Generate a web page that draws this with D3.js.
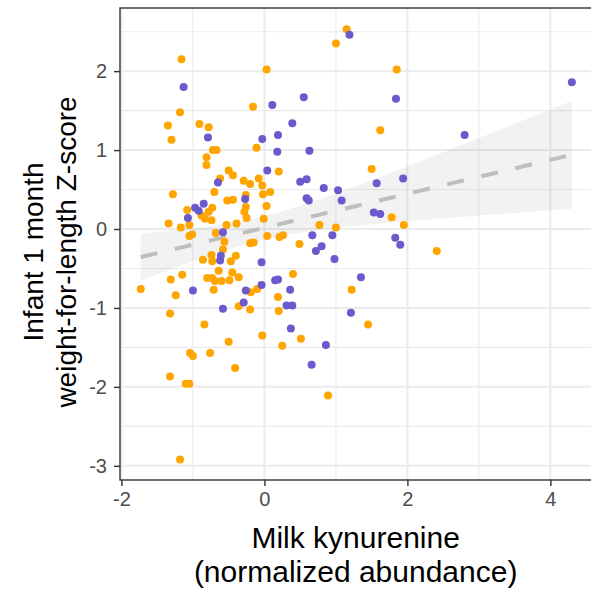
<!DOCTYPE html>
<html>
<head>
<meta charset="utf-8">
<script src="https://cdn.jsdelivr.net/npm/d3@7"></script>
<style>
  body { margin: 0; background: #fff; }
  svg text { font-family: "Liberation Sans", Arial, Helvetica, sans-serif; }
</style>
</head>
<body>
<div id="chart"></div>
<script>
// milk kynurenine (x) and infant WFL z-score (y), two groups
const kynOrange = [1.15,1.00,-1.16,0.03,1.85,-0.16,1.62,-1.18,-1.35,-0.91,
  -0.78,-1.30,-0.11,-0.72,-0.67,-0.81,-0.81,-0.50,0.20,1.50,
  -0.44,-0.62,-0.29,-0.20,-0.08,-0.03,-0.70,-1.28,-0.02,0.08,
  -0.26,-0.52,-0.44,0.03,-0.26,-0.28,-1.08,-0.73,-0.78,-0.88,
  -0.83,-0.74,-0.25,-0.01,-1.34,-1.17,-1.05,-0.53,-0.39,0.77,
  1.00,1.78,1.95,-1.05,-1.01,-0.68,0.04,0.21,0.26,-0.56,
  -0.20,-0.15,0.49,-0.58,2.41,-0.74,-0.40,-0.86,-0.73,-0.47,
  -0.64,-1.15,-0.45,-0.36,0.40,-1.31,-0.80,-0.73,-0.69,-0.60,
  -0.49,-0.71,-1.73,-1.24,-0.19,-0.10,0.19,1.22,-0.36,-0.20,
  0.20,-1.32,-0.84,1.45,-0.03,-0.50,0.51,0.25,-1.04,-1.00,
  -0.76,-0.41,-1.32,-1.10,-1.05,0.89,-1.18];
const wflzOrange = [2.53,2.35,2.15,2.02,2.02,1.55,1.25,1.48,1.31,1.33,
  1.29,1.13,1.03,1.00,1.00,0.91,0.81,0.74,0.73,0.76,
  0.68,0.64,0.61,0.57,0.64,0.55,0.47,0.44,0.44,0.47,
  0.43,0.36,0.37,0.29,0.28,0.22,0.24,0.27,0.22,0.17,
  0.13,0.11,0.14,0.13,0.07,0.02,0.05,0.05,0.07,0.05,
  0.02,0.15,0.05,-0.09,-0.07,-0.05,-0.09,-0.10,-0.08,-0.16,
  -0.18,-0.17,-0.19,-0.26,-0.28,-0.33,-0.34,-0.39,-0.41,-0.41,
  -0.53,-0.58,-0.55,-0.61,-0.57,-0.64,-0.62,-0.62,-0.66,-0.66,
  -0.65,-0.77,-0.76,-0.84,-0.80,-0.76,-0.86,-0.77,-0.98,-1.02,
  -1.04,-1.07,-1.21,-1.21,-1.35,-1.43,-1.39,-1.48,-1.57,-1.61,
  -1.57,-1.76,-1.87,-1.96,-1.96,-2.11,-2.92];
const kynPurple = [1.19,-1.13,0.55,1.84,4.30,0.11,0.39,2.80,0.19,-0.79,
  -0.03,0.18,0.63,0.04,-0.65,0.50,0.59,0.83,1.57,1.94,
  1.03,-0.27,0.59,0.62,1.08,-0.85,-0.97,-0.92,-1.07,1.53,
  1.62,-0.58,0.67,0.95,1.83,1.90,0.80,0.72,-0.61,-0.62,
  0.98,-0.04,0.15,0.19,1.35,-0.04,-1.00,-0.26,0.36,-0.29,
  0.31,0.39,-0.58,1.21,0.37,0.86,0.66];
const wflzPurple = [2.46,1.80,1.67,1.65,1.86,1.57,1.34,1.19,1.19,1.16,
  1.14,0.98,0.99,0.74,0.59,0.60,0.63,0.52,0.58,0.64,
  0.49,0.38,0.39,0.36,0.36,0.32,0.27,0.23,0.14,0.21,
  0.19,-0.04,-0.08,-0.08,-0.11,-0.20,-0.22,-0.28,-0.34,-0.40,
  -0.38,-0.42,-0.65,-0.64,-0.61,-0.71,-0.78,-0.78,-0.77,-0.93,
  -0.97,-0.97,-1.01,-1.06,-1.26,-1.47,-1.72];

const xTicks = [-2, 0, 2, 4];
const xMinor = [-1, 1, 3];
const yTicks = [-3, -2, -1, 0, 1, 2];
const yMinor = [-2.5, -1.5, -0.5, 0.5, 1.5, 2.5];

const W = 591, H = 594;
const panel = { left: 120, right: 593.3, top: 8, bottom: 480 };

const svg = d3.select("#chart").append("svg")
    .attr("width", W).attr("height", H);

const x = d3.scaleLinear().domain([-2.02, 4.6]).range([panel.left, panel.right]);
const y = d3.scaleLinear().domain([-3.18, 2.80]).range([panel.bottom, panel.top]);

// grid
const grid = svg.append("g");
grid.selectAll("line.xminor").data(xMinor).enter().append("line")
    .attr("x1", d => x(d)).attr("x2", d => x(d))
    .attr("y1", panel.top).attr("y2", panel.bottom)
    .attr("stroke", "#ebebeb").attr("stroke-width", 1.1);
grid.selectAll("line.yminor").data(yMinor).enter().append("line")
    .attr("y1", d => y(d)).attr("y2", d => y(d))
    .attr("x1", panel.left).attr("x2", panel.right)
    .attr("stroke", "#ebebeb").attr("stroke-width", 1.1);
grid.selectAll("line.xmajor").data(xTicks).enter().append("line")
    .attr("x1", d => x(d)).attr("x2", d => x(d))
    .attr("y1", panel.top).attr("y2", panel.bottom)
    .attr("stroke", "#ebebeb").attr("stroke-width", 2);
grid.selectAll("line.ymajor").data(yTicks).enter().append("line")
    .attr("y1", d => y(d)).attr("y2", d => y(d))
    .attr("x1", panel.left).attr("x2", panel.right)
    .attr("stroke", "#ebebeb").attr("stroke-width", 2);

// linear fit with 95% band, on all points
const allX = kynOrange.concat(kynPurple);
const allY = wflzOrange.concat(wflzPurple);
const n = allX.length;
const mx = d3.mean(allX), my = d3.mean(allY);
let sxx = 0, sxy = 0;
for (let i = 0; i < n; i++) {
    sxx += (allX[i] - mx) ** 2;
    sxy += (allX[i] - mx) * (allY[i] - my);
}
const slope = sxy / sxx;
const icpt = my - slope * mx;
let sse = 0;
for (let i = 0; i < n; i++) sse += (allY[i] - (icpt + slope * allX[i])) ** 2;
const s = Math.sqrt(sse / (n - 2));
const tval = 1.975;
const [x0, x1] = d3.extent(allX);
const fit = d3.range(0, 81).map(i => {
    const xv = x0 + (x1 - x0) * i / 80;
    const yv = icpt + slope * xv;
    const se = s * Math.sqrt(1 / n + (xv - mx) ** 2 / sxx);
    return { x: xv, y: yv, lo: yv - tval * se, hi: yv + tval * se };
});

svg.append("path").datum(fit)
    .attr("d", d3.area().x(d => x(d.x)).y0(d => y(d.lo)).y1(d => y(d.hi)))
    .attr("fill", "#999999").attr("fill-opacity", 0.13);
svg.append("path").datum(fit)
    .attr("d", d3.line().x(d => x(d.x)).y(d => y(d.y)))
    .attr("fill", "none").attr("stroke", "#bebebe")
    .attr("stroke-width", 4).attr("stroke-dasharray", "17,18");

// points
svg.append("g").selectAll("circle").data(d3.zip(kynOrange, wflzOrange)).enter()
    .append("circle")
    .attr("cx", d => x(d[0])).attr("cy", d => y(d[1])).attr("r", 4)
    .attr("fill", "#FFA500");
svg.append("g").selectAll("circle").data(d3.zip(kynPurple, wflzPurple)).enter()
    .append("circle")
    .attr("cx", d => x(d[0])).attr("cy", d => y(d[1])).attr("r", 4)
    .attr("fill", "#6A5ACD");

// border
svg.append("rect")
    .attr("x", panel.left).attr("y", panel.top)
    .attr("width", panel.right - panel.left).attr("height", panel.bottom - panel.top)
    .attr("fill", "none").attr("stroke", "#333333").attr("stroke-width", 1.4);

// axes
const xAxis = svg.append("g")
    .attr("transform", `translate(0,${panel.bottom})`)
    .call(d3.axisBottom(x).tickValues(xTicks).tickSize(6).tickPadding(6).tickFormat(d3.format("d")));
const yAxis = svg.append("g")
    .attr("transform", `translate(${panel.left},0)`)
    .call(d3.axisLeft(y).tickValues(yTicks).tickSize(6).tickPadding(7).tickFormat(d3.format("d")));
[xAxis, yAxis].forEach(g => {
    g.select(".domain").remove();
    g.selectAll(".tick line").attr("stroke", "#333333").attr("stroke-width", 1.4);
    g.selectAll(".tick text").attr("fill", "#4d4d4d")
        .style("font-size", "20px")
        .style("font-family", "'Liberation Sans', Arial, sans-serif");
});
xAxis.selectAll(".tick text").text(d => d < 0 ? "-" + Math.abs(d) : d);
yAxis.selectAll(".tick text").text(d => d < 0 ? "-" + Math.abs(d) : d);

// titles
const cx = (panel.left + panel.right) / 2;
const xt = svg.append("text").attr("text-anchor", "middle")
    .style("font-size", "30px").attr("fill", "#000");
xt.append("tspan").attr("x", cx - 1).attr("y", 548).text("Milk kynurenine");
xt.append("tspan").attr("x", cx - 1).attr("y", 582).text("(normalized abundance)");

const yt = svg.append("text").attr("text-anchor", "middle")
    .attr("transform", "translate(0,252) rotate(-90)")
    .style("font-size", "28px").attr("fill", "#000");
yt.append("tspan").attr("x", 0).attr("y", 43).text("Infant 1 month");
yt.append("tspan").attr("x", 0).attr("y", 76).text("weight-for-length Z-score");
</script>
</body>
</html>
